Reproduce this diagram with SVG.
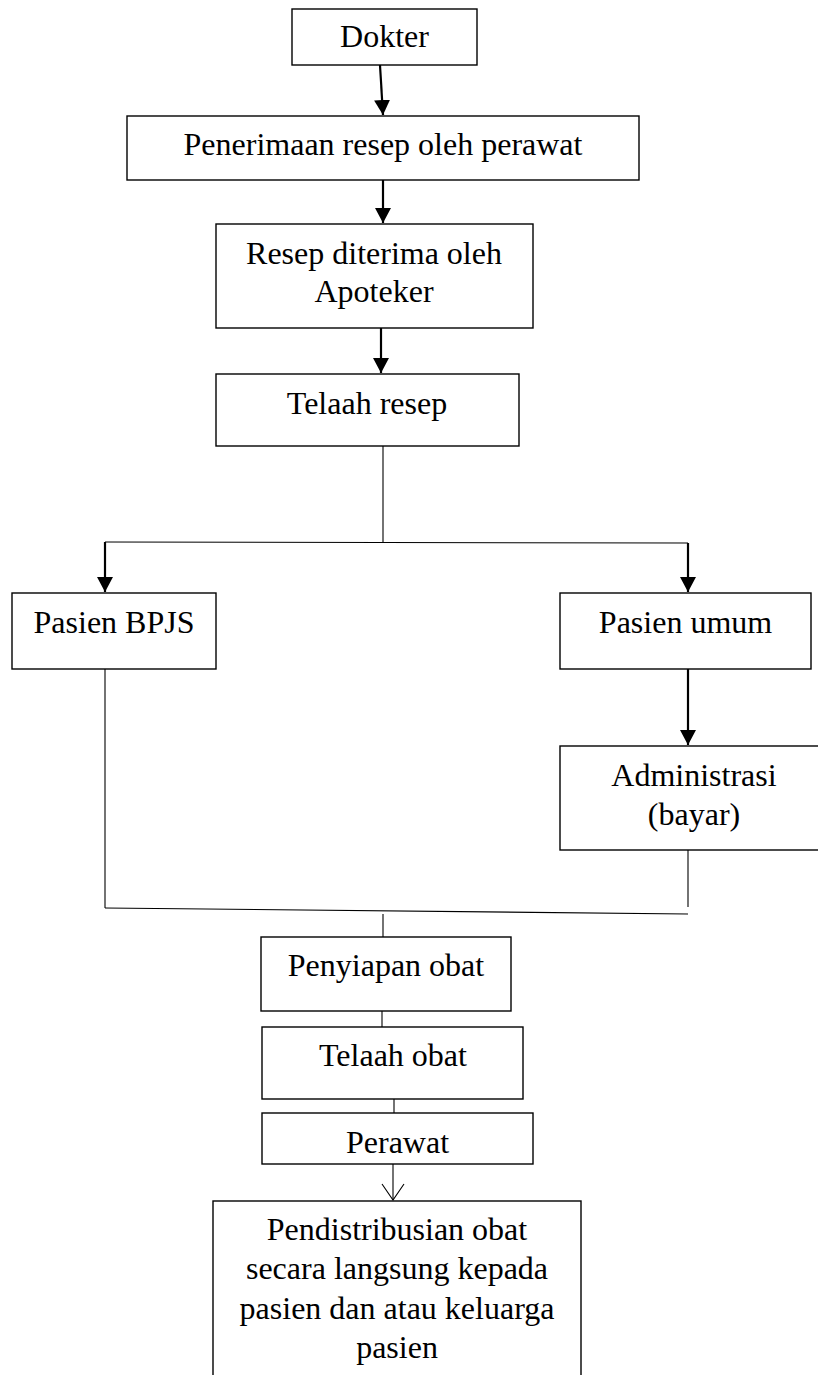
<svg xmlns="http://www.w3.org/2000/svg" width="818" height="1375" viewBox="0 0 818 1375">
<style>
.box{fill:#fff;stroke:#000;stroke-width:1.4}
.t{font-family:"Liberation Serif","Times New Roman",serif;font-size:32px;fill:#000;text-anchor:middle}
.arr{stroke:#000;stroke-width:2.2;fill:none}
.ln{stroke:#000;stroke-width:1.1;fill:none}
</style>
<defs>
<marker id="ah" markerUnits="userSpaceOnUse" markerWidth="16" markerHeight="16" viewBox="0 0 16 16" refX="15" refY="8" orient="auto">
<path d="M0,0 L15,8 L0,16 Z" fill="#000"/>
</marker>
</defs>
<rect width="818" height="1375" fill="#fff"/>
<g id="connectors">
<line class="arr" x1="380" y1="65" x2="383" y2="115" marker-end="url(#ah)"/>
<line class="arr" x1="383" y1="180" x2="383" y2="223" marker-end="url(#ah)"/>
<line class="arr" x1="381" y1="328" x2="381" y2="373" marker-end="url(#ah)"/>
<line class="ln" x1="383" y1="446" x2="383" y2="542"/>
<line class="ln" x1="105" y1="542" x2="688" y2="543" stroke-width="1.5"/>
<line class="arr" x1="105" y1="542" x2="105" y2="592" marker-end="url(#ah)"/>
<line class="arr" x1="688" y1="543" x2="688" y2="592" marker-end="url(#ah)"/>
<line class="arr" x1="688" y1="669" x2="688" y2="745" marker-end="url(#ah)"/>
<line class="ln" x1="105" y1="669" x2="105" y2="908"/>
<line class="ln" x1="688" y1="850" x2="688" y2="907"/>
<line class="ln" x1="105" y1="908" x2="688" y2="914" stroke-width="1.5"/>
<line class="ln" x1="383" y1="914" x2="383" y2="937"/>
<line class="ln" x1="382" y1="1011" x2="382" y2="1027"/>
<line class="ln" x1="394" y1="1099" x2="394" y2="1113"/>
<line class="ln" x1="393" y1="1164" x2="393" y2="1200" stroke-width="1.8"/>
<polyline class="ln" points="382,1184 393,1200 404,1184" stroke-width="2.2"/>
</g>
<g id="dokter"><rect class="box" x="292" y="9" width="185" height="56"/><text class="t" x="384.5" y="47">Dokter</text></g>
<g id="penerimaan"><rect class="box" x="127" y="116" width="512" height="64"/><text class="t" x="383" y="155">Penerimaan resep oleh perawat</text></g>
<g id="resep"><rect class="box" x="216" y="224" width="317" height="104"/><text class="t" x="374" y="264">Resep diterima oleh</text><text class="t" x="374" y="302">Apoteker</text></g>
<g id="telaah-resep"><rect class="box" x="216" y="374" width="303" height="72"/><text class="t" x="367" y="414">Telaah resep</text></g>
<g id="pasien-bpjs"><rect class="box" x="12" y="593" width="204" height="76"/><text class="t" x="114" y="633">Pasien BPJS</text></g>
<g id="pasien-umum"><rect class="box" x="560" y="593" width="251" height="76"/><text class="t" x="685.5" y="633">Pasien umum</text></g>
<g id="administrasi"><rect class="box" x="560" y="746" width="270" height="104"/><text class="t" x="694" y="786">Administrasi</text><text class="t" x="694" y="825">(bayar)</text></g>
<g id="penyiapan"><rect class="box" x="261" y="937" width="250" height="74"/><text class="t" x="386" y="976">Penyiapan obat</text></g>
<g id="telaah-obat"><rect class="box" x="262" y="1027" width="261" height="72"/><text class="t" x="393" y="1066">Telaah obat</text></g>
<g id="perawat"><rect class="box" x="262" y="1113" width="271" height="51"/><text class="t" x="397.5" y="1153">Perawat</text></g>
<g id="pendistribusian"><rect class="box" x="213" y="1201" width="368" height="200"/><text class="t" x="397" y="1240">Pendistribusian obat</text><text class="t" x="397" y="1279">secara langsung kepada</text><text class="t" x="397" y="1319">pasien dan atau keluarga</text><text class="t" x="397" y="1358">pasien</text></g>
</svg>
